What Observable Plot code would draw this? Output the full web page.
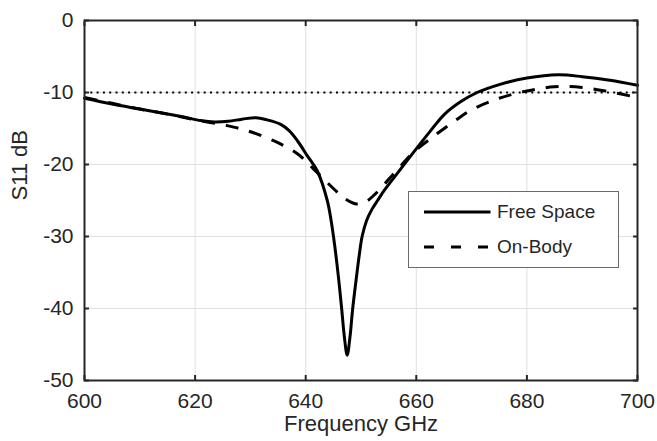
<!DOCTYPE html>
<html><head><meta charset="utf-8">
<script src="https://cdn.jsdelivr.net/npm/d3@7"></script>
<script src="https://cdn.jsdelivr.net/npm/@observablehq/plot@0.6"></script>
<style>
body{margin:0;background:#fff;}
#chart{position:relative;width:657px;height:441px;}
</style>
</head><body><div id="chart"></div>
<script>
// Free Space series
const freqFree = [600,605,610,615,618,621,623.5,626,628.5,631,633,635.4,637,638.5,640.3,642.1,643.9,644.6,645.2,645.9,646.5,647.0,647.5,648.0,648.5,649.2,649.7,650.2,651.0,652.0,653.0,654.2,656.5,659,662.6,665,668,671,675,680,685.7,690,695,700];
const s11Free  = [-10.8,-11.6,-12.3,-13.0,-13.4,-13.9,-14.1,-14.0,-13.7,-13.5,-13.8,-14.4,-15.3,-16.7,-18.8,-20.9,-25.0,-27.8,-31,-35.5,-40,-44.0,-46.5,-44.0,-40,-35.5,-32.5,-30,-27.8,-26.2,-25.0,-23.6,-21.3,-18.8,-15.3,-13.1,-11.3,-10.0,-8.9,-8.0,-7.55,-7.8,-8.3,-9.0];
// On-Body series
const freqBody = [600,605,610,615,620,625.8,629.4,634.2,638.5,641.4,645.1,647.2,649.3,650.8,652.3,655.9,659.5,663.8,667.4,670,675,680,685,690,695,700];
const s11Body  = [-10.7,-11.5,-12.3,-13.0,-13.8,-14.6,-15.3,-16.7,-18.5,-20.6,-23.4,-24.8,-25.5,-25.2,-24.3,-21.3,-18.3,-15.7,-13.7,-12.4,-10.8,-9.8,-9.2,-9.3,-9.9,-10.7];
const threshold = [-10];
const xTicks = [600,620,640,660,680,700];
const yTicks = [0,-10,-20,-30,-40,-50];
const seriesNames = ["Free Space","On-Body"];
const xLabel = "Frequency GHz";
const yLabel = "S11 dB";

const free = freqFree.map((f,i)=>({f, s:s11Free[i]}));
const body = freqBody.map((f,i)=>({f, s:s11Body[i]}));
const ink = "#262626";
const fmt = d => String(d);

const chart = Plot.plot({
  width:657, height:441,
  marginLeft:84, marginRight:20, marginTop:20, marginBottom:61,
  style:{fontFamily:"'Liberation Sans', Arial, sans-serif", fontSize:"21px", color:ink, background:"#fff"},
  x:{domain:[600,700]},
  y:{domain:[-50,0]},
  marks:[
    Plot.gridX(xTicks,{stroke:"#e0e0e0", strokeOpacity:1}),
    Plot.gridY(yTicks,{stroke:"#e0e0e0", strokeOpacity:1}),
    Plot.ruleY(threshold,{stroke:"#000", strokeWidth:1.8, strokeDasharray:"2,4.3"}),
    Plot.line(body,{x:"f", y:"s", stroke:"#000", strokeWidth:3, strokeDasharray:"13,11", strokeLinecap:"butt", curve:"catmull-rom"}),
    Plot.line(free,{x:"f", y:"s", stroke:"#000", strokeWidth:3, curve:"catmull-rom"}),
    Plot.frame({stroke:ink, strokeWidth:2}),
    Plot.axisX(xTicks,{anchor:"bottom", tickSize:-5, tickPadding:18, tickFormat:fmt, label:null, stroke:ink, strokeWidth:2}),
    Plot.axisX(xTicks,{anchor:"top", tickSize:-5, tickFormat:()=>"", label:null, stroke:ink, strokeWidth:2}),
    Plot.axisY(yTicks,{anchor:"left", tickSize:-5, tickPadding:16, tickFormat:fmt, label:null, stroke:ink, strokeWidth:2}),
    Plot.axisY(yTicks,{anchor:"right", tickSize:-5, tickFormat:()=>"", label:null, stroke:ink, strokeWidth:2}),
    Plot.text([xLabel],{frameAnchor:"bottom", lineAnchor:"top", dy:35, fontSize:22, fill:ink}),
    Plot.text([yLabel],{frameAnchor:"left", rotate:-90, lineAnchor:"middle", dx:-65, fontSize:22, fill:ink})
  ]
});
document.getElementById("chart").appendChild(chart);

// legend inside the plot area
const svg = d3.select(chart);
const lg = svg.append("g").attr("font-family","'Liberation Sans', Arial, sans-serif").attr("font-size",19).attr("fill",ink).attr("text-anchor","start");
lg.append("rect").attr("x",408.5).attr("y",191.5).attr("width",210).attr("height",76).attr("fill","#fff").attr("stroke","#6a6a6a").attr("stroke-width",1);
const dashes = [null,"10,17"];
seriesNames.forEach((name,i)=>{
  const y = 212 + i*35;
  lg.append("line").attr("x1",424).attr("x2",490.5).attr("y1",y).attr("y2",y)
    .attr("stroke","#000").attr("stroke-width",3).attr("stroke-dasharray",dashes[i]);
  lg.append("text").attr("x",497).attr("y",y).attr("dy","0.34em").attr("text-anchor","start").text(name);
});
</script>
</body></html>
